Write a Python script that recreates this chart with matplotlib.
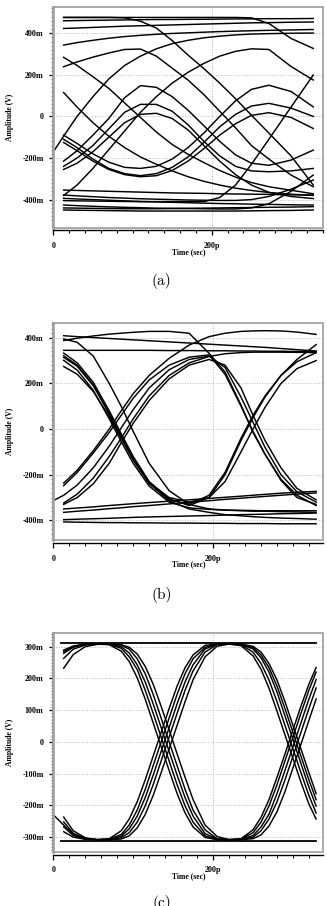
import numpy as np
import matplotlib
matplotlib.use('Agg')
import matplotlib.pyplot as plt
from matplotlib.patches import Rectangle
from matplotlib.ticker import MultipleLocator

nan = np.nan

# ---------------- panel (a) : time in ps, amplitude in mV ----------------
a_t = [1, 13, 30, 50, 70, 90, 110, 130, 150, 170, 190, 210, 230, 250, 272, 300, 328]
a_top_late = [nan, 476, 476, 476, 476, 476, 476, 476, 476, 476, 476, 476, 476, 474, 447, 375, 327]
a_top_early = [nan, 476, 476, 476, 476, 474, 458, 425, 365, 295, 230, 160, 85, 6, -80, -190, -330]
a_top_c = [nan, 460, 461, 462, 463, 464, 465, 466, 466, 467, 467, 468, 469, 469, 470, 470, 471]
a_top_d = [nan, 423, 425, 428, 431, 434, 436, 438, 440, 442, 444, 446, 448, 450, 451, 453, 454]
a_top_e = [nan, 343, 355, 366, 376, 384, 390, 395, 399, 402, 405, 408, 410, 412, 414, 416, 418]
a_cap_big_l = [nan, 239, 262, 285, 305, 322, 324, 290, 232, 175, 105, 25, -55, -140, -205, -282, -338]
a_cap_big_r = [nan, -380, -330, -250, -160, -70, 20, 95, 160, 212, 255, 290, 313, 325, 322, 240, 175]
a_cap_151 = [nan, -215, -165, -90, -10, 90, 148, 140, 95, 30, -45, -120, -185, -225, -235, -210, -162]
a_cap_63 = [nan, -240, -200, -140, -60, 20, 58, 58, 25, -40, -120, -190, -240, -262, -266, -262, -250]
a_cap_18 = [nan, -255, -225, -170, -100, -30, 10, 15, -10, -65, -140, -215, -280, -330, -365, -385, -395]
a_u_k = [nan, -90, -130, -180, -220, -245, -250, -240, -205, -150, -80, 0, 75, 130, 150, 120, 46]
a_u_l = [nan, -110, -150, -205, -250, -275, -285, -275, -245, -195, -125, -50, 10, 50, 63, 40, 0]
a_u_m = [nan, -125, -165, -215, -255, -280, -290, -285, -260, -215, -155, -90, -35, 5, 18, -5, -58]
a_fall_n = [nan, 115, 45, -30, -95, -150, -195, -230, -262, -290, -312, -330, -345, -356, -366, -374, -380]
a_fall_o = [nan, 284, 245, 191, 135, 65, -5, -75, -135, -182, -222, -260, -292, -318, -338, -355, -372]
a_low_1 = [nan, -354, -356, -358, -360, -362, -364, -366, -368, -369, -370, -372, -373, -374, -375, -377, -378]
a_low_2 = [nan, -378, -382, -386, -390, -393, -396, -398, -400, -402, -403, -404, -404, -400, -385, -350, -306]
a_low_3 = [nan, -394, -397, -400, -403, -406, -409, -411, -413, -415, -417, -419, -420, -422, -423, -425, -426]
a_low_4 = [nan, -426, -429, -432, -435, -437, -439, -441, -442, -443, -444, -445, -445, -440, -420, -360, -282]
a_low_5 = [nan, -450, -451, -452, -453, -454, -455, -455, -455, -455, -455, -455, -455, -454, -453, -452, -450]
a_low_6 = [nan, -440, -441, -442, -443, -444, -444, -444, -443, -442, -441, -440, -439, -438, -437, -436, -434]
a_rise_q = [-165, -95, 0, 95, 180, 245, 290, 325, 350, 366, 378, 386, 392, 396, 398, 400, 401]
a_rise_r = [nan, -405, -406, -407, -408, -409, -410, -410, -410, -410, -410, -390, -330, -230, -110, 45, 199]
a_traces = [a_top_late, a_top_early, a_top_c, a_top_d, a_top_e, a_cap_big_l, a_cap_big_r,
            a_cap_151, a_cap_63, a_cap_18, a_u_k, a_u_l, a_u_m, a_fall_n, a_fall_o,
            a_low_1, a_low_2, a_low_3, a_low_4, a_low_5, a_low_6, a_rise_q, a_rise_r]
a_yticks = [-400, -200, 0, 200, 400]
a_ylabels = ['-400m', '-200m', '0', '200m', '400m']

# ---------------- panel (b) ----------------
b_t = [1, 13, 30, 50, 70, 85, 100, 120, 145, 170, 195, 215, 235, 250, 265, 285, 305, 329]
b_top_a = [nan, 409, 405, 401, 397, 394, 391, 387, 382, 377, 372, 368, 364, 361, 358, 353, 348, 342]
b_top_flat = [nan, 345, 345, 345, 345, 345, 345, 345, 344, 344, 343, 343, 342, 342, 341, 341, 340, 340]
b_arc_l = [nan, 388, 398, 408, 416, 420, 424, 428, 428, 420, 332, 250, 105, -15, -110, -225, -300, -330]
b_arc_r = [nan, -237, -180, -95, 0, 80, 155, 235, 310, 368, 405, 420, 428, 430, 431, 430, 425, 415]
b_fall_5 = [nan, 395, 380, 320, 200, 100, -10, -150, -270, -330, -350, -355, -358, -360, -360, -362, -363, -365]
b_fall_1 = [nan, 333, 290, 205, 80, -20, -120, -230, -305, -335, -300, -200, -50, 50, 140, 235, 305, 370]
b_fall_2 = [nan, 321, 280, 195, 65, -35, -135, -240, -310, -330, -290, -190, -40, 60, 145, 235, 295, 335]
b_fall_3 = [nan, 301, 258, 170, 45, -55, -150, -250, -320, -345, -352, -355, -356, -357, -358, -358, -358, -358]
b_fall_4 = [nan, 274, 240, 165, 55, -40, -135, -235, -300, -320, -300, -230, -100, 0, 95, 200, 265, 300]
b_fall_6 = [nan, 314, 275, 190, 70, -30, -130, -235, -315, -350, -365, -375, -380, -384, -387, -390, -392, -395]
b_rise_2 = [nan, -248, -190, -105, -15, 60, 135, 215, 280, 315, 325, 240, 100, -10, -110, -220, -290, -335]
b_rise_3 = [-312, -290, -245, -170, -75, 5, 85, 180, 260, 305, 320, 270, 140, 30, -80, -200, -275, -320]
b_rise_4 = [nan, -324, -285, -215, -120, -40, 45, 145, 235, 290, 318, 330, 335, 337, 337, 337, 336, 335]
b_rise_5 = [nan, -330, -300, -240, -150, -60, 25, 125, 220, 280, 305, 280, 180, 60, -50, -170, -260, -310]
b_low_1 = [nan, -350, -346, -341, -335, -331, -327, -322, -316, -310, -304, -299, -294, -290, -286, -281, -277, -273]
b_low_2 = [nan, -365, -360, -355, -349, -345, -340, -335, -328, -321, -314, -308, -303, -299, -295, -290, -285, -280]
b_low_3 = [nan, -397, -395, -393, -391, -389, -387, -385, -383, -381, -379, -377, -375, -374, -373, -371, -370, -368]
b_low_4 = [nan, -407, -408, -409, -410, -410, -411, -411, -412, -412, -413, -413, -414, -414, -414, -415, -415, -415]
b_traces = [b_top_a, b_top_flat, b_arc_l, b_arc_r, b_fall_5, b_fall_1, b_fall_2, b_fall_3,
            b_fall_4, b_fall_6, b_rise_2, b_rise_3, b_rise_4, b_rise_5,
            b_low_1, b_low_2, b_low_3, b_low_4]
b_yticks = [-400, -200, 0, 200, 400]
b_ylabels = ['-400m', '-200m', '0', '200m', '400m']

# ---------------- panel (c) ----------------
c_t = [1, 13, 25, 40, 55, 70, 85, 95, 105, 115, 125, 135, 145, 155, 165, 175, 190, 205,
       220, 235, 250, 260, 270, 280, 290, 300, 310, 320, 329]
c_f1 = [nan, 289, 302, 308, 308, 306, 286, 253, 202, 135, 60, -15, -90, -163, -224, -268, -301, -308,
        -308, -305, -277, -238, -182, -112, -38, 38, 112, 182, 234]
c_f2 = [nan, 284, 300, 308, 308, 307, 295, 268, 228, 163, 90, 15, -60, -135, -202, -253, -296, -308,
        -308, -306, -286, -253, -202, -135, -60, 15, 90, 163, 220]
c_f3 = [nan, 279, 298, 307, 308, 308, 300, 280, 243, 189, 120, 45, -30, -105, -176, -234, -289, -306,
        -308, -307, -295, -268, -228, -163, -90, -15, 60, 135, 196]
c_f4 = [nan, 263, 292, 305, 308, 308, 305, 292, 262, 215, 150, 75, 0, -75, -150, -215, -277, -305,
        -308, -308, -300, -280, -243, -189, -120, -45, 30, 105, 170]
c_f5 = [nan, 232, 275, 300, 307, 308, 306, 298, 277, 238, 182, 112, 38, -38, -112, -182, -262, -298,
        -308, -308, -305, -293, -265, -220, -157, -82, -8, 68, 135]
c_r1 = [-232, -262, -290, -305, -308, -305, -280, -243, -189, -120, -45, 30, 105, 176, 234, 274, 304, 308,
        308, 303, 271, 229, 169, 97, 22, -52, -127, -196, -243]
c_r2 = [nan, -237, -280, -302, -308, -306, -292, -262, -215, -150, -75, 0, 75, 150, 215, 262, 298, 308,
        308, 306, 283, 247, 195, 127, 52, -22, -97, -169, -224]
c_r3 = [nan, -252, -288, -305, -308, -308, -297, -274, -234, -176, -105, -30, 45, 120, 189, 243, 293, 307,
        308, 307, 293, 265, 220, 157, 82, 8, -68, -143, -202]
c_r4 = [nan, -268, -295, -306, -308, -308, -302, -286, -253, -202, -135, -60, 15, 90, 163, 224, 283, 306,
        308, 308, 297, 274, 234, 176, 105, 30, -45, -120, -182]
c_r5 = [nan, -283, -300, -307, -308, -308, -306, -296, -271, -229, -169, -97, -22, 52, 127, 196, 268, 301,
        308, 308, 301, 283, 247, 195, 127, 52, -22, -97, -163]
c_traces = [c_f1, c_f2, c_f3, c_f4, c_f5, c_r1, c_r2, c_r3, c_r4, c_r5]
c_flat_t = [10, 329]
c_flat_hi = [313, 313]
c_flat_lo = [-313, -313]
c_yticks = [-300, -200, -100, 0, 100, 200, 300]
c_ylabels = ['-300m', '-200m', '-100m', '0', '100m', '200m', '300m']

x_ticks = [0, 200]
x_labels = ['0', '200p']

plt.rcParams['font.family'] = ['Liberation Serif', 'DejaVu Serif']


def setup_axes(ax, xmax, ylim, yticks, ylabels, yminor):
    ax.set_xlim(0, xmax)
    ax.set_ylim(*ylim)
    ax.spines['top'].set_visible(False)
    ax.spines['right'].set_visible(False)
    ax.spines['left'].set_color('#a8a8a8')
    ax.spines['left'].set_linewidth(2.0)
    ax.spines['bottom'].set_position(('outward', 2))
    ax.spines['bottom'].set_linewidth(1.0)
    # grey frame around the plotting area
    ax.add_patch(Rectangle((0, 0), 1, 1, transform=ax.transAxes, fill=False,
                           ec='#9c9c9c', lw=1.2, clip_on=False, zorder=4))
    ax.set_xticks(x_ticks)
    ax.set_xticklabels(x_labels, fontsize=5.8, fontweight='bold')
    ax.xaxis.set_minor_locator(MultipleLocator(20))
    ax.set_yticks(yticks)
    ax.set_yticklabels(ylabels, fontsize=5.8, fontweight='bold')
    ax.yaxis.set_minor_locator(MultipleLocator(yminor))
    ax.tick_params(axis='x', which='major', length=3.5, width=0.9, pad=5)
    ax.tick_params(axis='x', which='minor', length=2.5, width=0.8)
    ax.tick_params(axis='y', which='major', length=3, width=0.9, pad=4)
    ax.tick_params(axis='y', which='minor', length=1.6, width=0.6, color='#555555')
    ax.grid(True, which='major', linestyle=':', color='#b8b8b8', lw=0.7)
    ax.set_axisbelow(True)
    ax.set_ylabel('Amplitude (V)', fontsize=5.5, fontweight='bold')
    ax.yaxis.set_label_coords(-0.16, 0.5)
    ax.yaxis.label.set_va('center')
    ax.set_xlabel('Time (sec)', fontsize=5.5, fontweight='bold')
    ax.xaxis.set_label_coords(0.503, -0.113)
    ax.xaxis.label.set_va('center')


fig = plt.figure(figsize=(3.27, 9.06), dpi=100)

ax_a = fig.add_axes([0.163, 0.7487, 0.824, 0.2433])
for v in a_traces:
    ax_a.plot(a_t, v, color='black', lw=1.05)
setup_axes(ax_a, 340, (-535, 525), a_yticks, a_ylabels, 20)

ax_b = fig.add_axes([0.163, 0.4040, 0.8257, 0.2398])
for v in b_traces:
    ax_b.plot(b_t, v, color='black', lw=1.05)
setup_axes(ax_b, 338, (-486, 466), b_yticks, b_ylabels, 20)

ax_c = fig.add_axes([0.163, 0.0599, 0.8257, 0.2411])
for v in c_traces:
    ax_c.plot(c_t, v, color='black', lw=1.05)
ax_c.plot(c_flat_t, c_flat_hi, color='black', lw=1.3)
ax_c.plot(c_flat_t, c_flat_lo, color='black', lw=1.3)
setup_axes(ax_c, 338, (-346, 342), c_yticks, c_ylabels, 10)

for label, y in [('(a)', 0.6898), ('(b)', 0.3433), ('(c)', 0.0030)]:
    fig.text(0.495, y, label, family='cmr10', fontsize=11, ha='center', va='center')

fig.savefig('out.png', dpi=100)
